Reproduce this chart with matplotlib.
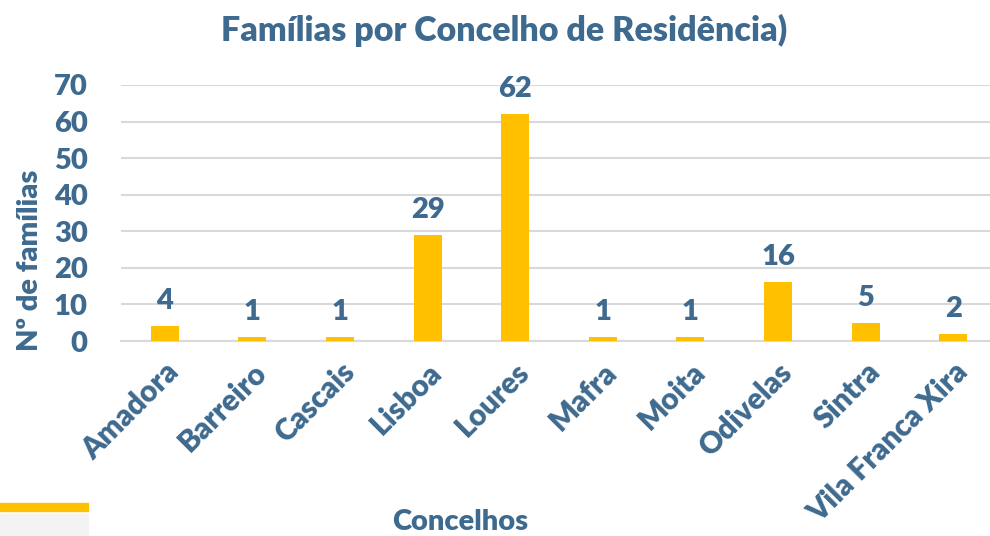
import matplotlib
matplotlib.use("Agg")
import matplotlib.pyplot as plt
from matplotlib.patches import Rectangle

categories = ["Amadora", "Barreiro", "Cascais", "Lisboa", "Loures", "Mafra",
              "Moita", "Odivelas", "Sintra", "Vila Franca Xira"]
values = [4, 1, 1, 29, 62, 1, 1, 16, 5, 2]
yticks = [0, 10, 20, 30, 40, 50, 60, 70]

TXT = "#3e6a8f"
BAR = "#ffc000"
W = 'heavy'
plt.rcParams['font.family'] = ['Lato', 'DejaVu Sans']

fig = plt.figure(figsize=(9.9, 5.36), dpi=100)
ax = fig.add_axes([121/990, 1 - 341/536, (997 - 121)/990, (341 - 85)/536 * 1.0])
ax.set_ylim(0, 70)
x = list(range(len(categories)))
ax.bar(x, values, width=0.32, color=BAR, zorder=3)
ax.set_xlim(-0.5, len(categories) - 0.5)
ax.set_yticks(yticks)
ax.set_yticklabels([str(t) for t in yticks], fontsize=21, fontweight=W, color=TXT)
ax.set_xticks(x)
ax.set_xticklabels(categories, rotation=45, ha='right', rotation_mode='anchor',
                   fontsize=21.5, fontweight=W, color=TXT)
ax.tick_params(axis='x', length=0, pad=12)
ax.tick_params(axis='y', length=0, pad=24)
ax.grid(axis='y', color='#d9d9d9', linewidth=1.5, zorder=0)
for s in ['top', 'right', 'left']:
    ax.spines[s].set_visible(False)
ax.spines['bottom'].set_color('#d9d9d9')
ax.spines['bottom'].set_linewidth(1.5)

for xi, v in zip(x, values):
    ax.text(xi, v + 3.3, str(v), ha='center', va='bottom', fontsize=21,
            fontweight=W, color=TXT)

fig.text(504/990, 1 - 30/536, "Famílias por Concelho de Residência)", ha='center',
         va='center', fontsize=24.5, fontweight=W, color=TXT)
fig.text(30/990, 1 - 260/536, "Nº de famílias", ha='center', va='center',
         rotation=90, fontsize=21, fontweight=W, color=TXT)
fig.text(460/990, 1 - 522/536, "Concelhos", ha='center', va='center',
         fontsize=21, fontweight=W, color=TXT)

fig.patches.append(Rectangle((0, 1 - 511/536), 88/990, 8/536,
                             transform=fig.transFigure, color=BAR, zorder=5))
fig.patches.append(Rectangle((0, 0), 88/990, 22/536,
                             transform=fig.transFigure, color='#f3f3f3', zorder=4))

fig.savefig("out.png", dpi=100)
